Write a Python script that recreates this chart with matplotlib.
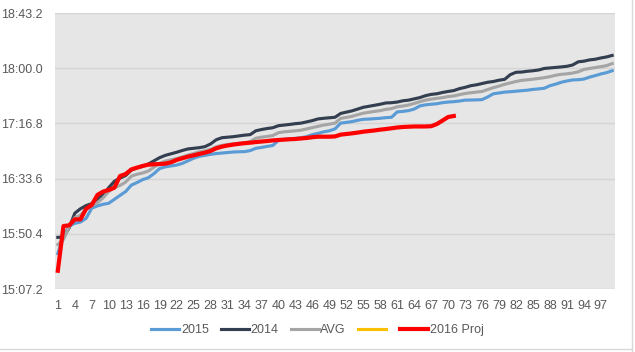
import matplotlib
matplotlib.use("Agg")
import matplotlib.pyplot as plt
from matplotlib.lines import Line2D
from matplotlib.ticker import FuncFormatter
import numpy as np

# tiempos en segundos (se muestran como mm:ss.d)
y2015 = [935, 948, 956.5, 958.6, 959.6, 962.5, 970.5, 972.2, 973.5, 974.3,
         977.4, 980.5, 983.5, 988.5, 990.5, 992.8, 994.3, 997.5, 1001.5, 1002.8,
         1003.5, 1004.2, 1005.5, 1007.5, 1009.5, 1011, 1011.8, 1012.6, 1013.2, 1013.6,
         1014, 1014.4, 1014.6, 1014.7, 1015.5, 1017.3, 1018, 1018.8, 1019.5, 1023.5,
         1024.3, 1024.8, 1025.1, 1025.6, 1026.5, 1028, 1029, 1030.2, 1031, 1032.5,
         1037, 1037.6, 1038.2, 1039.2, 1040, 1040.2, 1040.5, 1040.8, 1041.3, 1041.6,
         1045.8, 1046.2, 1046.8, 1048, 1050.5, 1051.3, 1051.8, 1052.2, 1053, 1053.5,
         1053.8, 1054.3, 1055, 1055.1, 1055.2, 1055.4, 1057.5, 1060, 1060.6, 1061.3,
         1061.6, 1062, 1062.4, 1062.8, 1063.4, 1063.8, 1064.3, 1066.3, 1067.5, 1069,
         1070, 1070.8, 1071, 1071.5, 1073, 1074.2, 1075.5, 1076.5, 1078]
y2014 = [947.6, 947.8, 955, 966.5, 970, 972.5, 974, 977, 981, 986.5,
         991.5, 994, 996, 1000.3, 1002, 1003.2, 1005, 1007.5, 1010, 1011.8,
         1013, 1014.2, 1015.6, 1016.8, 1017.3, 1017.8, 1018.6, 1020.7, 1024, 1025.6,
         1026, 1026.4, 1027, 1027.6, 1028, 1031, 1032, 1032.8, 1033.4, 1035,
         1035.5, 1036, 1036.6, 1037, 1038, 1039, 1040.3, 1040.8, 1041.2, 1041.6,
         1044.6, 1045.6, 1046.6, 1048, 1049.4, 1050.2, 1051, 1051.8, 1052.8, 1053,
         1053.5, 1054.5, 1055, 1056, 1057, 1058.5, 1059.5, 1060, 1061, 1061.8,
         1062.5, 1064, 1065, 1066.3, 1067, 1068, 1069, 1069.6, 1070.6, 1071.3,
         1075, 1076.8, 1077, 1077.6, 1078, 1078.6, 1079.8, 1080.2, 1080.6, 1081,
         1081.5, 1082.5, 1085, 1085.5, 1086.5, 1087, 1088, 1088.8, 1090]
y_avg = [942, 946, 956, 963, 965, 969.5, 972.3, 974.8, 978.5, 983.5,
         986.5, 988.3, 990.9, 995.5, 997, 998, 999.5, 1002.5, 1005.5, 1007.3,
         1008.3, 1009.3, 1010.6, 1012, 1013.2, 1014.5, 1015.3, 1016.5, 1018.5, 1019.6,
         1020.3, 1020.8, 1021.2, 1021.5, 1022.5, 1025.2, 1026, 1026.6, 1027.3, 1029.5,
         1030.2, 1030.6, 1031, 1031.5, 1032.5, 1033.5, 1034.5, 1035.5, 1036.2, 1037,
         1040.7, 1041.5, 1042.3, 1043.6, 1044.8, 1045.5, 1046.2, 1046.8, 1047.8, 1048.4,
         1049.8, 1050.4, 1051.2, 1052.4, 1053.8, 1055, 1055.8, 1056.4, 1057, 1057.8,
         1058.3, 1059.3, 1060.2, 1060.8, 1061.3, 1061.8, 1063.3, 1064.8, 1066, 1067.4,
         1068.5, 1069.6, 1070.5, 1070.9, 1071.4, 1072, 1072.6, 1073.4, 1074.5, 1075.2,
         1075.6, 1076.2, 1077.2, 1079, 1079.8, 1080.5, 1081.2, 1082, 1083.6]
y2016 = []  # serie amarilla sin datos
y2016_proj = [921.5, 956.5, 957, 961.7, 961.7, 970, 973, 980.8, 983.4, 984.7,
              986.5, 995.6, 997.2, 1000.8, 1002.2, 1003.5, 1004.5, 1004.8, 1005, 1005.3,
              1006.3, 1008.2, 1009.5, 1010.8, 1011.8, 1012.9, 1013.9, 1015.2, 1017.3, 1018.6,
              1019.5, 1020.2, 1020.8, 1021.3, 1021.7, 1022.2, 1022.6, 1023, 1023.5, 1023.8,
              1024.1, 1024.4, 1024.6, 1025, 1025.4, 1026, 1026.4, 1026.4, 1026.4, 1026.6,
              1028, 1028.5, 1029, 1029.6, 1030.3, 1030.8, 1031.3, 1031.9, 1032.4, 1033,
              1033.6, 1034, 1034.2, 1034.4, 1034.4, 1034.4, 1034.6, 1036.3, 1039, 1041.8,
              1042.6]

def mmss(s, pos=None):  # convierte segundos a mm:ss.d
    s = round(s, 1)
    return f"{int(s // 60)}:{s - 60 * int(s // 60):04.1f}"

plt.rcParams['font.family'] = ['Liberation Sans', 'DejaVu Sans']
fig = plt.figure(figsize=(6.35, 3.52), dpi=100)
ax = fig.add_axes([55/635, 1 - 289/352, 560/635, 276/352])
ax.set_facecolor('#e6e6e6')

l1, = ax.plot(range(1, len(y2015) + 1), y2015, color='#5b9bd5', lw=2.25)
l2, = ax.plot(range(1, len(y2014) + 1), y2014, color='#333f50', lw=2.25)
l3, = ax.plot(range(1, len(y_avg) + 1), y_avg, color='#a5a5a5', lw=2.25)
l4, = ax.plot(range(1, len(y2016) + 1), y2016, color='#ffc000', lw=2.25)
l5, = ax.plot(range(1, len(y2016_proj) + 1), y2016_proj, color='#ff0000', lw=3)

ax.set_xlim(0.5, 99.5)
ax.set_ylim(907.2, 1123.2)
ax.set_yticks(np.arange(907.2, 1123.3, 43.2))
ax.yaxis.set_major_formatter(FuncFormatter(mmss))
ax.set_xticks(range(1, 98, 3))
ax.grid(axis='y', color='#d4d4d4', lw=1)
ax.set_axisbelow(True)
for sp in ax.spines.values():
    sp.set_visible(False)
ax.tick_params(length=0, labelsize=9, colors='#595959')
ax.tick_params(axis='y', pad=9)
ax.tick_params(axis='x', pad=8)

fig.legend([l1, l2, l3, l4, l5], ['2015', '2014', 'AVG', '', '2016 Proj'],
           loc='center', bbox_to_anchor=(0.5, 1 - 330/352), ncol=5, frameon=False,
           fontsize=9, labelcolor='#595959', handlelength=2.2, handletextpad=0.15,
           columnspacing=1.0)

# bordes de celdas de la hoja de cálculo
fig.add_artist(Line2D([632/635, 632/635], [0, 1], color='#d9d9d9', lw=1))
fig.add_artist(Line2D([0, 632/635], [1 - 349/352, 1 - 349/352], color='#d9d9d9', lw=1))

fig.savefig('out.png', dpi=100)
